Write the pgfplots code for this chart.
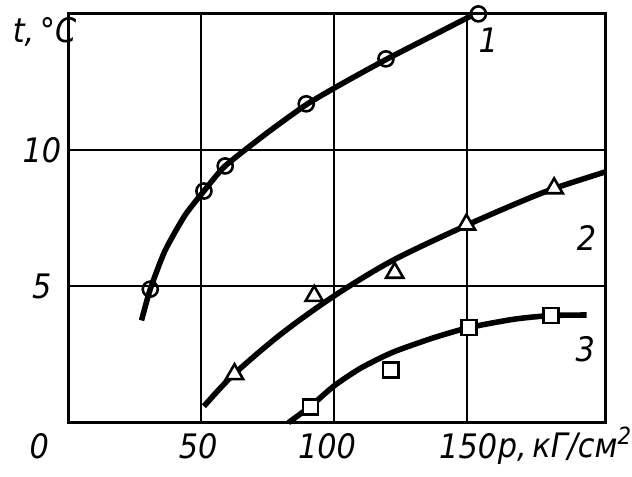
\documentclass[border=0pt]{standalone}
\usepackage{fontspec}
\setmainfont{DejaVu Sans Condensed}
\usepackage{pgfplots}
\pgfplotsset{compat=1.18}
\begin{document}
\begin{tikzpicture}[x=1pt,y=1pt]
\begin{axis}[
  scale only axis, width=270.5pt, height=206pt,
  xmin=0, xmax=202, ymin=0, ymax=15,
  axis line style={line width=1.5pt},
  xtick={50,100,150}, ytick={5,10},
  xticklabels={}, yticklabels={},
  major tick length=0pt,
  grid=major, grid style={black, line width=1pt},
  clip=false,
  font=\fontsize{17}{17}\selectfont\itshape,
]
% invisible canvas box
\path (rel axis cs:-0.1275,-0.131) rectangle (rel axis cs:1.0407,1.034);
% curve lines
\addplot[black, line width=2.8pt, smooth, tension=0.35] coordinates {
(27.5,3.75) (30.8,4.9) (36.3,6.3) (43.8,7.6) (51,8.5) (59,9.42) (75,10.65) (90,11.7) (105,12.55) (120,13.35) (137,14.2) (152,14.95)};
\addplot[black, line width=2.8pt, smooth, tension=0.5] coordinates {
(51,0.6) (62,1.75) (80,3.25) (100,4.65) (122,5.95) (150,7.25) (170,8.1) (183,8.6) (202,9.2)};
\addplot[black, line width=2.8pt, smooth, tension=0.4] coordinates {
(82.8,0) (91.1,0.6) (100,1.35) (110,2.0) (122,2.58) (137,3.1) (150.8,3.49) (168,3.8) (181.6,3.93) (195,3.95)};
% markers
\addplot[only marks, mark=o, mark size=3.8pt, mark options={line width=1.3pt, fill=white}] coordinates {
(30.8,4.9) (51,8.5) (59,9.42) (89.5,11.7) (119.5,13.35) (154.3,15.0)};
\addplot[only marks, mark=triangle*, mark size=5pt, mark options={line width=1.3pt, fill=white}] coordinates {
(62.5,1.78) (92.5,4.65) (122.8,5.5) (149.8,7.27) (182.8,8.6)};
\addplot[only marks, mark=square*, mark size=3.8pt, mark options={line width=1.3pt, fill=white}] coordinates {
(91.1,0.58) (121.3,1.93) (150.8,3.49) (181.6,3.93)};
% curve numbers
\node at (axis cs:158,14.05) {1};
\node at (axis cs:195,6.77) {2};
\node at (axis cs:194.5,2.7) {3};
% tick labels
\node at (axis cs:-11,-0.85) {0};
\node at (axis cs:48.8,-0.85) {50};
\node at (axis cs:97.3,-0.85) {100};
\node[anchor=east, inner sep=0pt] at (axis cs:161.5,-0.85) {150};
\node[anchor=west, inner sep=0pt] at (axis cs:161.5,-0.85) {p,\,кГ/см\textsuperscript{2}};
\node at (axis cs:-10,10) {10};
\node at (axis cs:-10,5) {5};
\node at (axis cs:-9,14.35) {t,\,°C};
\end{axis}
\end{tikzpicture}
\end{document}
